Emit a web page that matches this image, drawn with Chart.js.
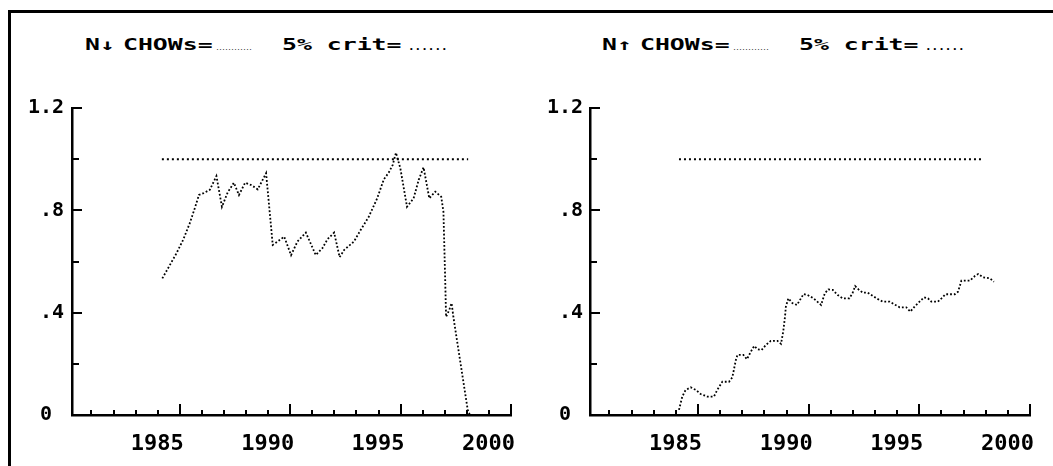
<!DOCTYPE html>
<html>
<head>
<meta charset="utf-8">
<script src="https://cdn.jsdelivr.net/npm/chart.js@4.4.0/dist/chart.umd.min.js"></script>
<style>
  body { margin: 0; background: #fff; }
  #page { position: relative; width: 1053px; height: 466px; overflow: hidden; }
  .frame { position: absolute; left: 8px; top: 10px; right: -10px; bottom: -10px; border-left: 3px solid #000; border-top: 3px solid #000; }
  canvas { position: absolute; top: 0; }
  .ttl { position: absolute; top: 35px; font: bold 16px 'DejaVu Sans Mono', monospace; line-height: normal; transform: scaleX(1.55); transform-origin: 0 0; white-space: pre; color: #000; }
  .fine { position: absolute; top: 45px; font: bold 5px 'DejaVu Sans Mono', monospace; line-height: normal; white-space: pre; color: #000; }
  .dots { position: absolute; top: 40px; font: bold 11px 'DejaVu Sans Mono', monospace; line-height: normal; white-space: pre; color: #000; }
</style>
</head>
<body>
<div id="page">
  <div class="frame"></div>

  <div class="ttl" style="left:85px">N↓</div>
  <div class="ttl" style="left:123px">CHOWs=</div>
  <div class="fine" style="left:216px">............</div>
  <div class="ttl" style="left:282px">5% crit=</div>
  <div class="dots" style="left:408px">......</div>

  <div class="ttl" style="left:602px">N↑</div>
  <div class="ttl" style="left:640px">CHOWs=</div>
  <div class="fine" style="left:733px">............</div>
  <div class="ttl" style="left:799px">5% crit=</div>
  <div class="dots" style="left:925px">......</div>

  <canvas id="chart-down" width="527" height="466" style="left:0px"></canvas>
  <canvas id="chart-up" width="526" height="466" style="left:527px"></canvas>
</div>

<script>
// break-point Chow statistics, scaled so the 5% critical value is 1
const nDownYears = [1984.21, 1984.55, 1984.85, 1985.15, 1985.45, 1985.68, 1985.87, 1986.05, 1986.36, 1986.66,
    1986.91, 1987.17, 1987.45, 1987.68, 1987.96, 1988.23, 1988.53, 1988.91, 1989.21, 1989.43,
    1989.73, 1990.04, 1990.33, 1990.71, 1991.16, 1991.46, 1991.69, 1991.99, 1992.24, 1992.44,
    1992.89, 1993.19, 1993.56, 1993.94, 1994.24, 1994.46, 1994.64, 1994.79, 1994.99, 1995.29,
    1995.59, 1995.82, 1996.04, 1996.30, 1996.57, 1996.84, 1996.94, 1997.02, 1997.06, 1997.20,
    1997.31, 1997.39, 1998.04, 1998.14]
const nDownValues = [0.534, 0.586, 0.632, 0.684, 0.749, 0.808, 0.860, 0.866, 0.880, 0.934,
    0.814, 0.870, 0.908, 0.860, 0.908, 0.899, 0.882, 0.945, 0.665, 0.678,
    0.697, 0.625, 0.678, 0.713, 0.625, 0.652, 0.687, 0.713, 0.617, 0.645,
    0.678, 0.723, 0.775, 0.847, 0.921, 0.947, 0.977, 1.025, 0.964, 0.814,
    0.847, 0.919, 0.968, 0.847, 0.873, 0.853, 0.795, 0.528, 0.384, 0.410,
    0.437, 0.384, 0.020, 0.000]

const nUpYears = [1984.14, 1984.29, 1984.44, 1984.67, 1984.90, 1985.12, 1985.42, 1985.72, 1985.87, 1986.10,
    1986.40, 1986.55, 1986.71, 1986.78, 1987.05, 1987.21, 1987.39, 1987.54, 1987.69, 1987.87,
    1988.07, 1988.29, 1988.59, 1988.75, 1988.85, 1988.93, 1988.97, 1989.08, 1989.27, 1989.47,
    1989.77, 1989.95, 1990.22, 1990.56, 1990.73, 1990.89, 1991.09, 1991.31, 1991.54, 1991.84,
    1991.99, 1992.10, 1992.25, 1992.45, 1992.67, 1992.90, 1993.13, 1993.35, 1993.66, 1993.88,
    1994.11, 1994.41, 1994.59, 1994.79, 1995.01, 1995.21, 1995.39, 1995.54, 1995.84, 1996.00,
    1996.18, 1996.60, 1996.75, 1996.90, 1997.28, 1997.51, 1997.66, 1997.88, 1998.19, 1998.37]
const nUpValues = [0.020, 0.072, 0.098, 0.108, 0.098, 0.082, 0.072, 0.072, 0.098, 0.130,
    0.130, 0.147, 0.215, 0.235, 0.235, 0.218, 0.248, 0.270, 0.257, 0.254,
    0.274, 0.290, 0.290, 0.278, 0.326, 0.384, 0.423, 0.456, 0.437, 0.430,
    0.473, 0.469, 0.456, 0.430, 0.476, 0.491, 0.489, 0.469, 0.456, 0.456,
    0.478, 0.504, 0.491, 0.478, 0.478, 0.465, 0.453, 0.443, 0.443, 0.432,
    0.421, 0.421, 0.404, 0.424, 0.443, 0.460, 0.456, 0.443, 0.443, 0.456,
    0.472, 0.472, 0.482, 0.525, 0.525, 0.543, 0.551, 0.538, 0.534, 0.521]

// 5% critical value line
const critDownYears = [1984.19, 1998.06]
const critUpYears = [1984.14, 1997.81]
const critValues = [1, 1]

const yearTicks = [1981, 1982, 1983, 1984, 1985, 1986, 1987, 1988, 1989, 1990,
    1991, 1992, 1993, 1994, 1995, 1996, 1997, 1998, 1999, 2000]
const labelledYears = [1985, 1990, 1995, 2000]
const valueTicks = [0, 0.2, 0.4, 0.6, 0.8, 1.0, 1.2]
const valueLabels = ['0 ', '', '.4', '', '.8', '', '1.2']

const tickFont = 'DejaVu Sans Mono'

// tick marks point into the plot, long ones where there is a label
const innerTicks = {
    id: 'innerTicks',
    afterDraw(chart){
        const {ctx, scales: {x, y}} = chart
        ctx.save()
        ctx.strokeStyle = '#000'
        ctx.lineWidth = 2
        ctx.beginPath()
        yearTicks.forEach(yr => {
            const px = Math.round(x.getPixelForValue(yr))
            const len = labelledYears.includes(yr) ? 11 : 5
            ctx.moveTo(px, y.bottom)
            ctx.lineTo(px, y.bottom - len)
        })
        valueTicks.forEach((v, i) => {
            const py = Math.round(y.getPixelForValue(v))
            const len = valueLabels[i] ? 10 : 7
            ctx.moveTo(x.left, py)
            ctx.lineTo(x.left + len, py)
        })
        ctx.stroke()
        ctx.restore()
    }
}

function points(xs, ys){
    return xs.map((x, i) => ({x, y: ys[i]}))
}

function createChart(id, years, values, critYears, axisWidth, padRight, labelPad){
    const ctx = document.getElementById(id)
    return new Chart(ctx, {
        type: 'line',
        data: {
            datasets: [
                {
                    data: points(critYears, critValues),
                    borderColor: '#000',
                    borderWidth: 2,
                    borderDash: [2, 3],
                    pointRadius: 0
                },
                {
                    data: points(years, values),
                    borderColor: '#000',
                    borderWidth: 1.8,
                    borderDash: [1.8, 2],
                    pointRadius: 0,
                    tension: 0
                }
            ]
        },
        options: {
            responsive: false,
            animation: false,
            layout: { padding: { top: 108, right: padRight, left: 0, bottom: 0 } },
            plugins: { legend: { display: false }, tooltip: { enabled: false } },
            scales: {
                x: {
                    type: 'linear',
                    min: 1980.12,
                    max: 2000,
                    afterBuildTicks: scale => { scale.ticks = yearTicks.map(value => ({value})) },
                    afterFit: scale => { scale.height = 51 },
                    grid: { display: false, drawTicks: false },
                    border: { display: true, color: '#000', width: 2.5 },
                    ticks: {
                        autoSkip: false,
                        maxRotation: 0,
                        minRotation: 0,
                        align: 'end',
                        labelOffset: 4,
                        padding: 16,
                        color: '#000',
                        font: { family: tickFont, size: 22, weight: 'bold' },
                        callback: value => labelledYears.includes(value) ? String(value) : ''
                    }
                },
                y: {
                    min: 0,
                    max: 1.2,
                    afterBuildTicks: scale => { scale.ticks = valueTicks.map(value => ({value})) },
                    afterFit: scale => { scale.width = axisWidth },
                    grid: { display: false, drawTicks: false },
                    border: { display: true, color: '#000', width: 2.5 },
                    ticks: {
                        padding: labelPad,
                        color: '#000',
                        font: { family: tickFont, size: 20, weight: 'bold' },
                        callback: (value, i) => valueLabels[i]
                    }
                }
            }
        },
        plugins: [innerTicks]
    })
}

createChart('chart-down', nDownYears, nDownValues, critDownYears, 72, 14, 8)
createChart('chart-up', nUpYears, nUpValues, critUpYears, 63, 23, 7)
</script>
</body>
</html>
